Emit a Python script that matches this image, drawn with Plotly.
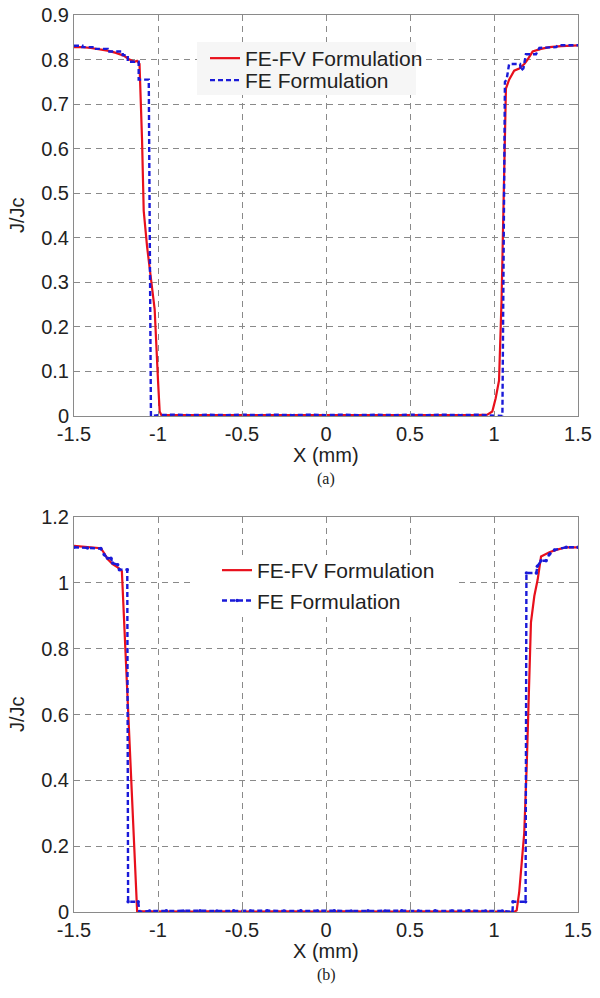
import plotly.graph_objects as go

# ---------------- data (a) ----------------
a_fefv_x = [-1.5, -1.45, -1.4, -1.35, -1.3, -1.25, -1.2, -1.17, -1.14, -1.125, -1.11, -1.095, -1.085,
            -1.065, -1.045, -1.02, -1.0, -0.99, -0.98, -0.9, -0.8, -0.7, -0.6, -0.5, -0.4, -0.3, -0.2,
            -0.1, 0.0, 0.1, 0.2, 0.3, 0.4, 0.5, 0.6, 0.7, 0.8, 0.9, 0.96, 0.99, 1.01, 1.03, 1.045,
            1.06, 1.071, 1.09, 1.12, 1.15, 1.18, 1.2, 1.23, 1.28, 1.33, 1.4, 1.45, 1.5]
a_fefv_y = [0.828, 0.828, 0.826, 0.823, 0.82, 0.815, 0.808, 0.80, 0.795, 0.797, 0.79, 0.62, 0.46,
            0.38, 0.32, 0.24, 0.08, 0.01, 0.002, 0.002, 0.001, 0.002, 0.001, 0.002, 0.001, 0.002, 0.001,
            0.002, 0.001, 0.002, 0.001, 0.002, 0.001, 0.002, 0.001, 0.002, 0.001, 0.002, 0.003, 0.01, 0.04, 0.08, 0.26,
            0.50, 0.735, 0.755, 0.775, 0.78, 0.79, 0.80, 0.818, 0.824, 0.828, 0.83, 0.831, 0.832]

a_fe_x = [-1.5, -1.45, -1.45, -1.38, -1.38, -1.3, -1.3, -1.21, -1.21, -1.18, -1.18, -1.115, -1.115,
          -1.055, -1.042, -1.0, -0.9, -0.8, -0.7, -0.6, -0.5, -0.4, -0.3, -0.2, -0.1, 0.0, 0.1, 0.2,
          0.3, 0.4, 0.5, 0.6, 0.7, 0.8, 0.9, 1.0, 1.05, 1.065, 1.075, 1.09, 1.155, 1.16, 1.175, 1.19,
          1.25, 1.27, 1.37, 1.38, 1.5]
a_fe_y = [0.831, 0.831, 0.828, 0.828, 0.824, 0.824, 0.818, 0.818, 0.81, 0.81, 0.795, 0.795, 0.755,
          0.755, 0.0, 0.002, 0.003, 0.002, 0.003, 0.002, 0.003, 0.002, 0.003, 0.002, 0.003, 0.002, 0.003, 0.002,
          0.003, 0.002, 0.003, 0.002, 0.003, 0.002, 0.003, 0.002, 0.0, 0.75, 0.755, 0.79, 0.79, 0.775, 0.78, 0.812,
          0.812, 0.826, 0.828, 0.832, 0.832]

# ---------------- data (b) ----------------
b_fefv_x = [-1.5, -1.45, -1.4, -1.34, -1.32, -1.3, -1.27, -1.24, -1.215, -1.2, -1.18, -1.16, -1.143,
            -1.13, -1.124, -1.1, -1.0, -0.9, -0.8, -0.7, -0.6, -0.5, -0.4, -0.3, -0.2, -0.1, 0.0, 0.1,
            0.2, 0.3, 0.4, 0.5, 0.6, 0.7, 0.8, 0.9, 1.0, 1.1, 1.12, 1.135, 1.15, 1.165, 1.18, 1.195,
            1.21, 1.22, 1.24, 1.26, 1.28, 1.33, 1.37, 1.43, 1.5]
b_fefv_y = [1.112, 1.11, 1.108, 1.105, 1.09, 1.072, 1.057, 1.047, 1.035, 0.86, 0.62, 0.40, 0.22,
            0.06, 0.0, 0.002, 0.001, 0.002, 0.001, 0.002, 0.001, 0.002, 0.001, 0.002, 0.001, 0.002, 0.001, 0.002,
            0.001, 0.002, 0.001, 0.002, 0.001, 0.002, 0.001, 0.002, 0.001, 0.002, 0.0, 0.005, 0.06, 0.15, 0.24, 0.45,
            0.70, 0.88, 0.96, 1.01, 1.08, 1.093, 1.10, 1.108, 1.108]

b_fe_x = [-1.5, -1.42, -1.34, -1.32, -1.3, -1.28, -1.27, -1.24, -1.23, -1.183, -1.178, -1.118,
          -1.11, -1.05, -0.95, -0.85, -0.75, -0.65, -0.55, -0.45, -0.35, -0.25, -0.15, -0.05, 0.05,
          0.15, 0.25, 0.35, 0.45, 0.55, 0.65, 0.75, 0.85, 0.95, 1.05, 1.11, 1.113, 1.188, 1.193,
          1.252, 1.258, 1.28, 1.31, 1.33, 1.36, 1.43, 1.5]
b_fe_y = [1.108, 1.106, 1.104, 1.085, 1.075, 1.075, 1.06, 1.055, 1.04, 1.04, 0.031, 0.031,
          0.0, 0.003, 0.004, 0.003, 0.004, 0.003, 0.004, 0.003, 0.004, 0.003, 0.004, 0.003, 0.004,
          0.003, 0.004, 0.003, 0.004, 0.003, 0.004, 0.003, 0.004, 0.003, 0.003, 0.0, 0.031, 0.031, 1.03,
          1.03, 1.05, 1.067, 1.067, 1.087, 1.10, 1.108, 1.108]

x_ticks = [-1.5, -1, -0.5, 0, 0.5, 1, 1.5]
x_ticktext = ["-1.5", "-1", "-0.5", "0", "0.5", "1", "1.5"]
a_yticks = [0, 0.1, 0.2, 0.3, 0.4, 0.5, 0.6, 0.7, 0.8, 0.9]
a_yticktext = ["0", "0.1", "0.2", "0.3", "0.4", "0.5", "0.6", "0.7", "0.8", "0.9"]
b_yticks = [0, 0.2, 0.4, 0.6, 0.8, 1.0, 1.2]
b_yticktext = ["0", "0.2", "0.4", "0.6", "0.8", "1", "1.2"]

RED = "#e8101c"
BLUE = "#1a1ad8"
W, H = 600, 998


def px(xp):
    return xp / W


def py(yp):
    return 1 - yp / H


fig = go.Figure()
fig.add_trace(go.Scatter(x=a_fefv_x, y=a_fefv_y, mode="lines", name="FE-FV Formulation",
                         line=dict(color=RED, width=2.2), xaxis="x", yaxis="y", legend="legend"))
fig.add_trace(go.Scatter(x=a_fe_x, y=a_fe_y, mode="lines", name="FE Formulation",
                         line=dict(color=BLUE, width=2.4, dash="5px,3px"), xaxis="x", yaxis="y",
                         legend="legend3"))
fig.add_trace(go.Scatter(x=b_fefv_x, y=b_fefv_y, mode="lines", name="FE-FV Formulation",
                         line=dict(color=RED, width=2.2), xaxis="x2", yaxis="y2", legend="legend2"))
fig.add_trace(go.Scatter(x=b_fe_x, y=b_fe_y, mode="lines+markers", name="FE Formulation",
                         line=dict(color=BLUE, width=2.4, dash="5px,3px"),
                         marker=dict(color=BLUE, size=3.5), xaxis="x2", yaxis="y2", legend="legend2"))

FONT = "Arial, Liberation Sans, Helvetica, sans-serif"
axis_common = dict(showgrid=True, gridcolor="#8a8a8a", gridwidth=1, griddash="6px,5px",
                   showline=True, linecolor="#8a8a8a", linewidth=1, mirror="ticks",
                   ticks="inside", ticklen=5, tickcolor="#8a8a8a", zeroline=False, automargin=False,
                   ticklabeloverflow="allow",
                   tickfont=dict(size=20, color="#222222", family=FONT))
leg_common = dict(xanchor="left", yanchor="top", bgcolor="rgba(0,0,0,0)", borderwidth=0,
                  font=dict(size=21, family=FONT, color="#222222"), itemwidth=30, tracegroupgap=0)

xdom = [px(74), px(578)]
fig.update_layout(
    width=W, height=H, margin=dict(l=0, r=0, t=0, b=0, autoexpand=False),
    paper_bgcolor="white", plot_bgcolor="white",
    font=dict(family=FONT, color="#222222"),
    xaxis=dict(domain=xdom, range=[-1.5, 1.5], anchor="y", tickvals=x_ticks, ticktext=x_ticktext,
               **axis_common),
    yaxis=dict(domain=[py(416), py(15)], range=[0, 0.9], anchor="x", tickvals=a_yticks,
               ticktext=a_yticktext, **axis_common),
    xaxis2=dict(domain=xdom, range=[-1.5, 1.5], anchor="y2", tickvals=x_ticks, ticktext=x_ticktext,
                **axis_common),
    yaxis2=dict(domain=[py(912), py(517)], range=[0, 1.2], anchor="x2", tickvals=b_yticks,
                ticktext=b_yticktext, **axis_common),
    legend=dict(x=px(205), y=py(38), **leg_common),
    legend3=dict(x=px(205), y=py(60), **leg_common),
    legend2=dict(x=px(217), y=py(550), **leg_common),
    showlegend=True,
    shapes=[
        dict(type="rect", xref="paper", yref="paper", x0=px(197), x1=px(416), y0=py(95), y1=py(42),
             fillcolor="#f6f6f6", line=dict(width=0), layer="above"),
        dict(type="rect", xref="paper", yref="paper", x0=px(192), x1=px(458), y0=py(617), y1=py(555),
             fillcolor="white", line=dict(width=0), layer="above"),
    ],
)

ann = []
for ycenter, lab, ymid in [(455, "(a)", 215), (951, "(b)", 714)]:
    ann.append(dict(text="X (mm)", x=px(326), y=py(ycenter), xref="paper", yref="paper",
                    showarrow=False, font=dict(size=20, family=FONT, color="#222222"),
                    xanchor="center", yanchor="middle"))
    ann.append(dict(text=lab, x=px(326), y=py(ycenter + 24), xref="paper", yref="paper",
                    showarrow=False, font=dict(size=16, family="Liberation Serif, Times New Roman, serif",
                                               color="#222222"),
                    xanchor="center", yanchor="middle"))
    ann.append(dict(text="J/Jc", x=px(17), y=py(ymid), xref="paper", yref="paper",
                    showarrow=False, textangle=-90, font=dict(size=20, family=FONT, color="#222222"),
                    xanchor="center", yanchor="middle"))
fig.update_layout(annotations=ann)

# remove the browser's default 8px page margin so the figure sits at the window's corner
fig.write_html("out.html", post_script="document.body.style.margin='0px';",
               config={"displayModeBar": False})
